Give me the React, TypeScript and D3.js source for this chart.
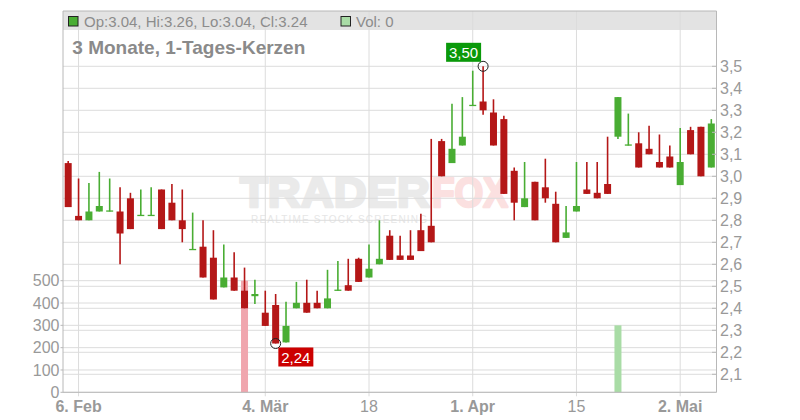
import * as d3 from "d3";

// daily candles, 5 Feb .. 2 May
const opens = [
  3.06, 2.82, 2.8, 2.84, 2.84, 2.84, 2.9, 2.82, 2.82, 2.94, 2.88, 2.8, 2.665, 2.68, 2.63, 2.495,
  2.54, 2.48, 2.455, 2.38, 2.415, 2.245, 2.4, 2.425, 2.425, 2.4, 2.48, 2.505, 2.625, 2.54, 2.6,
  2.73, 2.64, 2.64, 2.755, 2.775, 3.16, 3.06, 3.14, 3.32, 3.34, 3.29, 3.26, 3.025, 2.86, 2.975,
  2.95, 2.875, 2.72, 2.84, 2.94, 2.925, 2.965, 3.18, 3.14, 3.15, 3.125, 3.065, 3.09, 2.96, 3.21,
  3.225, 3.04,
];
const highs = [
  3.07, 2.99, 2.97, 3.02, 2.99, 2.95, 2.925, 2.94, 2.95, 2.94, 2.965, 2.94, 2.835, 2.8, 2.755, 2.69,
  2.655, 2.585, 2.53, 2.48, 2.465, 2.43, 2.52, 2.53, 2.48, 2.575, 2.615, 2.625, 2.63, 2.69, 2.8,
  2.755, 2.73, 2.755, 2.83, 3.17, 3.17, 3.33, 3.36, 3.48, 3.5, 3.35, 3.275, 3.04, 3.065, 2.975,
  3.08, 2.93, 2.865, 3.065, 3.065, 3.065, 3.18, 3.36, 3.285, 3.2, 3.23, 3.19, 3.14, 3.22, 3.225,
  3.225, 3.26,
];
const lows = [
  2.86, 2.8, 2.8, 2.84, 2.84, 2.6, 2.76, 2.82, 2.82, 2.76, 2.8, 2.7, 2.665, 2.54, 2.44, 2.495,
  2.48, 2.4, 2.42, 2.32, 2.24, 2.245, 2.4, 2.38, 2.4, 2.4, 2.48, 2.48, 2.52, 2.54, 2.6,
  2.62, 2.62, 2.62, 2.66, 2.7, 3.0, 3.06, 3.14, 3.32, 3.28, 3.14, 2.92, 2.8, 2.86, 2.8,
  2.88, 2.7, 2.72, 2.84, 2.92, 2.9, 2.92, 3.17, 3.14, 3.04, 3.1, 3.04, 3.04, 2.96, 3.1,
  3.0, 3.04,
];
const closes = [
  2.86, 2.8, 2.84, 2.865, 2.845, 2.74, 2.76, 2.825, 2.825, 2.76, 2.8, 2.76, 2.67, 2.54, 2.44, 2.54,
  2.48, 2.4, 2.465, 2.32, 2.24, 2.32, 2.425, 2.38, 2.4, 2.445, 2.485, 2.48, 2.52, 2.58, 2.625,
  2.62, 2.62, 2.62, 2.66, 2.7, 3.0, 3.125, 3.18, 3.325, 3.3, 3.14, 2.92, 2.88, 2.9, 2.8,
  2.9, 2.7, 2.745, 2.865, 2.92, 2.9, 2.92, 3.36, 3.145, 3.04, 3.1, 3.04, 3.04, 3.065, 3.1,
  3.0, 3.24,
];
const volumes = opens.map((_, i) => (i === 17 ? 500 : i === 53 ? 300 : 0));

const xTickIdx = [1, 19, 29, 39, 49, 59];
const xTickLabels = ["6. Feb", "4. Mär", "18", "1. Apr", "15", "2. Mai"];
const xTickBold = [true, true, false, true, false, true];
const priceTicks = [2.1, 2.2, 2.3, 2.4, 2.5, 2.6, 2.7, 2.8, 2.9, 3.0, 3.1, 3.2, 3.3, 3.4, 3.5];
const volTicks = [0, 100, 200, 300, 400, 500];

const RED = "#b41717";
const GREEN = "#49ad33";
const GRID = "#dcdcdc";
const AXIS = "#b8b8b8";
const FONT = "'Liberation Sans', Arial, sans-serif";

const left = 63;
const right = 716.5;
const top = 11;
const bottom = 392.3;

export default function App() {
  const idx = d3.range(opens.length);
  const x = d3.scaleBand<number>().domain(idx).range([left, right]);
  const cx = (i: number) => x(i)! + x.bandwidth() / 2;
  const y = d3.scaleLinear().domain([2.1, 3.5]).range([374.3, 66.3]);
  const yv = d3.scaleLinear().domain([0, 500]).range([bottom, 280.7]);
  const bodyW = 7;
  const comma = (v: number, d: number) => d3.format(`.${d}f`)(v).replace(".", ",");

  const hiIdx = d3.maxIndex(highs);
  const loIdx = d3.minIndex(lows);
  const last = opens.length - 1;
  const lastUp = closes[last] >= opens[last];

  return (
    <svg
      width={800}
      height={420}
      style={{ position: "absolute", left: 0, top: 0, fontFamily: FONT }}
    >
      <rect width={800} height={420} fill="white" />
      {/* header band */}
      <rect x={left} y={top} width={right - left} height={19} fill="#e3e3e3" />

      {/* watermark */}
      <g>
        <text x={240} y={206.5} fontSize={42} fontWeight="bold" fill="#eaeaea" stroke="#eaeaea" strokeWidth={2.5} strokeLinejoin="round" textLength={190} lengthAdjust="spacingAndGlyphs">
          TRADER
        </text>
        <text x={432} y={206.5} fontSize={42} fontWeight="bold" fill="#fbe0e0" stroke="#fbe0e0" strokeWidth={2.5} strokeLinejoin="round" textLength={76} lengthAdjust="spacingAndGlyphs">
          FOX
        </text>
        <text x={251} y={223} fontSize={10} fill="#e6e6e6" textLength={176} lengthAdjust="spacing">
          REALTIME STOCK SCREENING
        </text>
      </g>

      {/* grid */}
      {priceTicks.map((t) => (
        <line key={"p" + t} x1={left} x2={right} y1={y(t)} y2={y(t)} stroke={GRID} />
      ))}
      {volTicks.map((t) => (
        <line key={"v" + t} x1={left} x2={right} y1={yv(t)} y2={yv(t)} stroke={GRID} />
      ))}
      {xTickIdx.map((i) => (
        <line key={"x" + i} x1={cx(i)} x2={cx(i)} y1={top} y2={bottom + 4} stroke={GRID} />
      ))}

      {/* volume */}
      {idx
        .filter((i) => volumes[i] > 0)
        .map((i) => (
          <rect
            key={"vol" + i}
            x={cx(i) - bodyW / 2}
            width={bodyW}
            y={yv(volumes[i])}
            height={yv(0) - yv(volumes[i])}
            fill={closes[i] < opens[i] ? "#f0a6ae" : "#a9dca6"}
          />
        ))}

      {/* candles */}
      {idx.map((i) => {
        const up = closes[i] >= opens[i];
        const c = up ? GREEN : RED;
        const yTop = y(Math.max(opens[i], closes[i]));
        const yBot = y(Math.min(opens[i], closes[i]));
        return (
          <g key={"c" + i}>
            <line x1={cx(i)} x2={cx(i)} y1={y(highs[i])} y2={y(lows[i])} stroke={c} strokeWidth={1.6} />
            <rect x={cx(i) - bodyW / 2} width={bodyW} y={yTop} height={Math.max(1.3, yBot - yTop)} fill={c} />
          </g>
        );
      })}

      {/* high / low markers */}
      <circle cx={cx(hiIdx)} cy={y(highs[hiIdx])} r={5} fill="none" stroke="#222" />
      <rect x={cx(hiIdx) - 37} y={y(highs[hiIdx]) - 23.5} width={35} height={19} fill="#0a990a" />
      <text x={cx(hiIdx) - 19.5} y={y(highs[hiIdx]) - 8.5} fontSize={15} fill="white" textAnchor="middle">
        {comma(highs[hiIdx], 2)}
      </text>
      <circle cx={cx(loIdx)} cy={y(lows[loIdx])} r={5} fill="none" stroke="#222" />
      <rect x={cx(loIdx) + 2.7} y={y(lows[loIdx]) + 4} width={35} height={19} fill="#cc0000" />
      <text x={cx(loIdx) + 20.2} y={y(lows[loIdx]) + 19} fontSize={15} fill="white" textAnchor="middle">
        {comma(lows[loIdx], 2)}
      </text>

      {/* frame */}
      <line x1={left} x2={right} y1={top} y2={top} stroke={AXIS} />
      <line x1={left} x2={left} y1={top} y2={bottom} stroke={AXIS} />
      <line x1={right} x2={right} y1={top} y2={bottom} stroke={AXIS} />
      <line x1={left} x2={right} y1={bottom} y2={bottom} stroke={AXIS} />

      {/* right price axis */}
      {priceTicks.map((t) => (
        <g key={"pl" + t}>
          <line x1={right - 4.5} x2={right} y1={y(t)} y2={y(t)} stroke={AXIS} />
          <text x={720} y={y(t) + 5.6} fontSize={16} fill="#999">
            {comma(t, 1)}
          </text>
        </g>
      ))}

      {/* left volume axis */}
      {volTicks.map((t) => (
        <g key={"vl" + t}>
          <line x1={60.5} x2={left} y1={yv(t)} y2={yv(t)} stroke={AXIS} />
          <text x={59.5} y={yv(t) + 5.6} fontSize={16} fill="#999" textAnchor="end">
            {t}
          </text>
        </g>
      ))}

      {/* x axis labels */}
      {xTickIdx.map((i, k) => (
        <text
          key={"xl" + i}
          x={cx(i)}
          y={411.7}
          fontSize={16}
          fill="#999"
          textAnchor="middle"
          fontWeight={xTickBold[k] ? "bold" : "normal"}
        >
          {xTickLabels[k]}
        </text>
      ))}

      {/* header legend */}
      <rect x={68.5} y={16.5} width={9.5} height={9.5} fill={lastUp ? GREEN : RED} stroke="#222" />
      <text x={84} y={26.6} fontSize={15} fill="#8c8c8c">
        {`Op:${opens[last].toFixed(2)}, Hi:${highs[last].toFixed(2)}, Lo:${lows[last].toFixed(2)}, Cl:${closes[last].toFixed(2)}`}
      </text>
      <rect x={341} y={16.5} width={9.5} height={9.5} fill={lastUp ? "#a9dca6" : "#f0a6ae"} stroke="#222" />
      <text x={356} y={26.6} fontSize={15} fill="#8c8c8c">
        {`Vol: ${volumes[last]}`}
      </text>

      {/* title */}
      <text x={72.3} y={54} fontSize={19} fontWeight="bold" fill="#8a8a8a">
        3 Monate, 1-Tages-Kerzen
      </text>
    </svg>
  );
}
